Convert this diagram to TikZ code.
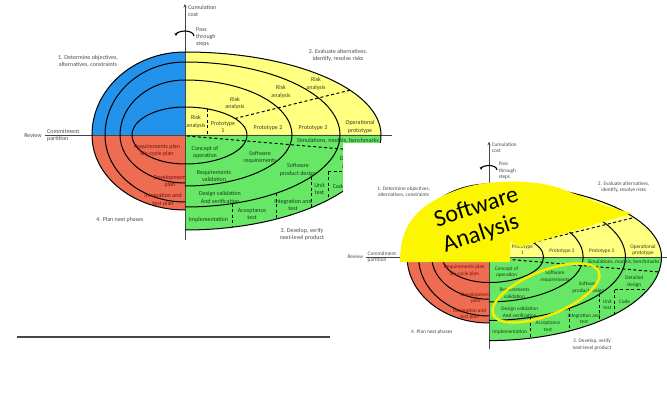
\documentclass[tikz,border=0pt]{standalone}
\usepackage{fontspec}
\setmainfont{Carlito}
\usetikzlibrary{arrows.meta}
\definecolor{qblue}{RGB}{35,146,235}
\definecolor{qyellow}{RGB}{255,255,128}
\definecolor{qgreen}{RGB}{102,232,102}
\definecolor{qred}{RGB}{238,108,82}
\definecolor{blobyellow}{RGB}{252,246,0}
\definecolor{ringyellow}{RGB}{250,235,0}
\definecolor{otext}{RGB}{75,75,75}
\definecolor{ytext}{RGB}{60,60,40}
\definecolor{gtext}{RGB}{25,60,25}
\definecolor{rtext}{RGB}{115,20,10}
\definecolor{axisgray}{RGB}{70,70,70}
\tikzset{
  spiralline/.style={black, line width=1pt},
  axisline/.style={axisgray, line width=0.9pt},
  dashline/.style={black, line width=1pt, dash pattern=on 3pt off 2.5pt},
  txt/.style={font=\fontsize{6}{7.3}\selectfont, align=center, inner sep=0pt},
  ytxt/.style={txt, text=ytext},
  gtxt/.style={txt, text=gtext},
  rtxt/.style={txt, text=rtext},
  otxt/.style={txt, text=otext},
  bigtxt/.style={font=\fontsize{24}{24}\selectfont, inner sep=0pt, text=black, rotate=18}
}
\newif\ifriskshown
\riskshowntrue
\newcommand{\qarc}[4]{\draw[spiralline] (#1:#3 and #4) arc[start angle=#1,end angle=#2,x radius=#3,y radius=#4];}
\newcommand{\spiralmodel}[1]{%
  % quadrant fills
  \fill[qblue] (0,0) -- (180:93 and 83) arc[start angle=180,end angle=270,x radius=93,y radius=83] -- cycle;
  \fill[qyellow] (0,0) -- (270:196 and 83) arc[start angle=270,end angle=360,x radius=196,y radius=83] -- cycle;
  \fill[qgreen] (0,0) -- (0:196 and 95) arc[start angle=0,end angle=90,x radius=196,y radius=95] -- cycle;
  \fill[qred] (0,0) -- (90:93 and 75) arc[start angle=90,end angle=180,x radius=93,y radius=75] -- cycle;
  % axes
  \coordinate (#1axL) at (-140,0);
  \coordinate (#1axR) at (207,0);
  \coordinate (#1axB) at (0,105);
  \coordinate (#1axT) at (0,-131);
  \draw[axisline] (#1axL) -- (#1axR);
  \draw[axisline, -{Stealth[length=3.5pt,width=3pt]}] (#1axB) -- (#1axT);
  % spiral arcs
  \qarc{180}{270}{53}{28}\qarc{180}{270}{65}{55}\qarc{180}{270}{80}{73}\qarc{180}{270}{93}{83}
  \qarc{270}{360}{62}{28}\qarc{270}{360}{107}{55}\qarc{270}{360}{155}{73}\qarc{270}{360}{196}{83}
  \qarc{0}{90}{62}{29}\qarc{0}{90}{107}{51}\qarc{0}{90}{155}{72}\qarc{0}{90}{196}{95}
  \qarc{90}{180}{53}{29}\qarc{90}{180}{65}{48}\qarc{90}{180}{80}{67}\qarc{90}{180}{93}{75}
  % dashed partitions
  \draw[dashline] (22,-26.2) -- (22,0);
  \draw[dashline] (50,-16.5) -- (165,-44.8);
  \draw[dashline] (2,1) -- (193,17);
  \draw[dashline] (143,37) -- (180.5,37);
  \draw[dashline] (47,68.6) -- (47,92.2);
  \draw[dashline] (91,58.3) -- (91,84.1);
  \draw[dashline] (126,41.9) -- (126,72.8);
  \draw[dashline] (143,37) -- (143,65);
  % pass-through arrow
  \draw[black, line width=1.1pt, -{Stealth[length=3pt,width=3pt]}] (9,-99) arc[start angle=0,end angle=-180,x radius=9,y radius=5];
  % outside labels
  \node[otxt, anchor=west, align=left] (#1cost) at (3,-124) {Cumulation\\cost};
  \node[otxt, anchor=west, align=left] (#1pass) at (11,-98) {Pass\\through\\steps};
  \node[otxt] (#1q1) at (-97,-74) {1. Determine objectives,\\alternatives, constraints};
  \node[otxt] (#1q2) at (153,-79.5) {2. Evaluate alternatives,\\identify, resolve risks};
  \node[otxt] (#1review) at (-152,0) {Review};
  \node[otxt, anchor=south west] (#1commit) at (-138,-1.2) {Commitment};
  \node[otxt, anchor=north west] (#1part) at (-138,1.2) {partition};
  \node[otxt] (#1q4) at (-65,85) {4. Plan next phases};
  \node[otxt] (#1q3) at (117,99.5) {3. Develop, verify\\next-level product};
  % yellow quadrant
  \ifriskshown
  \node[ytxt] (#1ra1) at (11,-13) {Risk\\analysis};
  \node[ytxt] (#1ra2) at (50,-31.5) {Risk\\analysis};
  \node[ytxt] (#1ra3) at (96,-43) {Risk\\analysis};
  \node[ytxt] (#1ra4) at (131,-51) {Risk\\analysis};
  \fi
  \node[ytxt] (#1p1) at (38,-8) {Prototype\\1};
  \node[ytxt] (#1p2) at (83,-7) {Prototype 2};
  \node[ytxt] (#1p3) at (128,-7) {Prototype 3};
  \node[ytxt] (#1op) at (175,-8) {Operational\\prototype};
  % green quadrant
  \node[gtxt] (#1cop) at (20,17.5) {Concept of\\operation};
  \node[gtxt] (#1sreq) at (75,22.5) {Software\\requirements};
  \node[gtxt] (#1rval) at (29,41) {Requirements\\validation};
  \node[gtxt] (#1spd) at (113,35) {Software\\product design};
  \node[gtxt] (#1dval) at (35,62.5) {Design validation\\And verification};
  \node[gtxt] (#1sim) at (153,6) {Simulations, models, benchmarks};
  \node[gtxt] (#1det) at (165,28) {Detailed\\design};
  \node[gtxt] (#1unit) at (134.5,54) {Unit\\test};
  \node[gtxt] (#1code) at (154,51) {Code};
  \node[gtxt] (#1int) at (108,70) {Integration and\\test};
  \node[gtxt] (#1acc) at (67,79) {Acceptance\\test};
  \node[gtxt] (#1impl) at (23.5,85) {Implementation};
  % red quadrant
  \node[rtxt] (#1rp) at (-28,15.5) {Requirements plan\\life-cycle plan};
  \node[rtxt] (#1dp) at (-15,46.5) {Development\\plan};
  \node[rtxt] (#1itp) at (-22,65) {Integration and\\test plan};
}
\begin{document}
\begin{tikzpicture}[x=1pt,y=-1pt]
  \useasboundingbox (0,0) rectangle (667,417);
  \fill[white] (0,0) rectangle (667,417);
  % left picture
  \begin{scope}[shift={(185,135)}]
    \spiralmodel{L}
  \end{scope}
  \coordinate (ruleA) at (17,337);
  \coordinate (ruleB) at (330,337);
  \draw[axisgray, line width=1.1pt] (ruleA) -- (ruleB);
  % right picture on its own white sheet
  \fill[white] (343,143) rectangle (667,417);
  \riskshownfalse
  \begin{scope}[shift={(489,257)}, scale=0.88, transform shape]
    \spiralmodel{R}
  \end{scope}
  % highlight blob
  \fill[blobyellow] plot[smooth, tension=0.7] coordinates {(400,262) (401,247) (405,232) (414,217) (430,203) (452,192) (475,185) (500,182) (525,182) (552,186) (580,196) (606,206) (632,213)}
    -- (520,247) -- (510,241) -- (510,262) -- cycle;
  \node[bigtxt] (sw) at (476,206) {Software};
  \node[bigtxt] (an) at (481,234) {Analysis};
  \draw[ringyellow, line width=2.5pt, rotate around={22:(546,293)}] (546,293) ellipse [x radius=57, y radius=22];
\end{tikzpicture}
\end{document}
